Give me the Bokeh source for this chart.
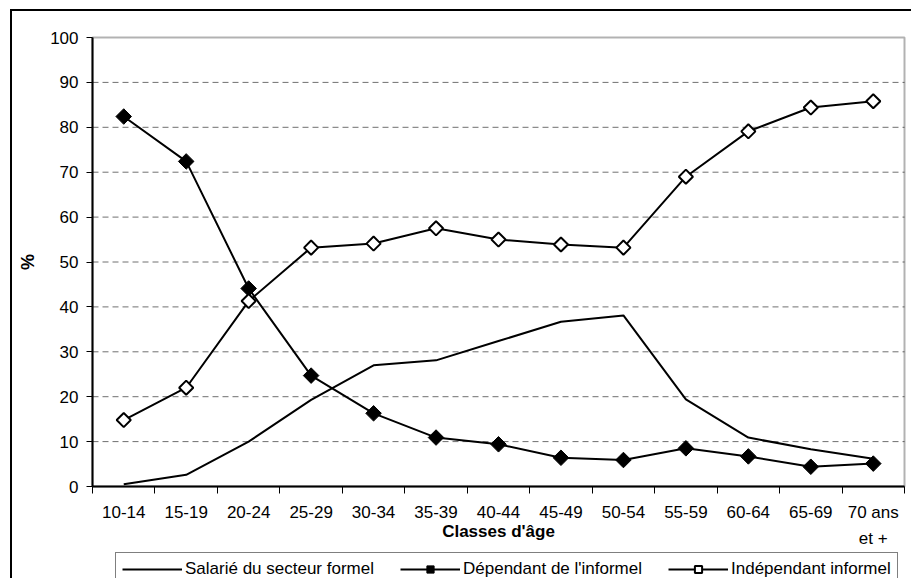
import math
from bokeh.plotting import figure
from bokeh.models import (FixedTicker, Legend, LegendItem, ColumnDataSource, Range1d,
                          Label, BoxAnnotation)
from bokeh.embed import file_html
from bokeh.resources import INLINE

categories = ["10-14", "15-19", "20-24", "25-29", "30-34", "35-39", "40-44",
              "45-49", "50-54", "55-59", "60-64", "65-69", "70 ans"]
last_category_line2 = "et +"
salarie = [0.5, 2.6, 10.0, 19.3, 27.0, 28.1, 32.4, 36.7, 38.1, 19.4, 10.9, 8.3, 6.2]
dependant = [82.4, 72.4, 44.1, 24.7, 16.3, 10.9, 9.4, 6.4, 5.9, 8.5, 6.7, 4.4, 5.1]
independant = [14.8, 22.0, 41.3, 53.2, 54.1, 57.5, 55.0, 53.9, 53.2, 69.0, 79.1, 84.4, 85.8]
series_names = ["Salarié du secteur formel", "Dépendant de l'informel", "Indépendant informel"]
y_ticks = [0, 10, 20, 30, 40, 50, 60, 70, 80, 90, 100]

FONT = "Liberation Sans"
FS = "17px"

# layout: the frame fills the whole canvas; the plot area sits inside it
W, H = 911, 578
AREA_L, AREA_R, AREA_T, AREA_B = 92, 904, 37, 486
n = len(categories)
ymax = y_ticks[-1]
ppx = (AREA_R - AREA_L) / n
ppy = (AREA_B - AREA_T) / ymax
x_range = Range1d(-AREA_L / ppx, n + (W - AREA_R) / ppx)
y_range = Range1d(-(H - AREA_B) / ppy, ymax + AREA_T / ppy)

xc = [i + 0.5 for i in range(n)]
src = ColumnDataSource(dict(x=xc, sal=salarie, dep=dependant, ind=independant))
grid_src = ColumnDataSource(dict(x0=[0] * (len(y_ticks) - 2), x1=[n] * (len(y_ticks) - 2),
                                 y=y_ticks[1:-1]))

p = figure(width=W, height=H, output_backend="svg", toolbar_location=None,
           x_range=x_range, y_range=y_range, min_border=0)
p.min_border_left = 0
p.min_border_right = 0
p.min_border_top = 0
p.min_border_bottom = 0
p.background_fill_color = None
p.border_fill_color = None
p.outline_line_color = None
p.styles = {
    "background": ("linear-gradient(#000,#000) 10px 9px / 2px 1200px no-repeat, "
                   "linear-gradient(#000,#000) 10px 9px / 1200px 2px no-repeat, #fff")
}
p.xgrid.visible = False
p.ygrid.visible = False

# x axis: at y=0, labels at category centres, ticks at the category boundaries
xa = p.xaxis[0]
xa.fixed_location = 0
xa.bounds = (0, n)
xa.ticker = FixedTicker(ticks=xc, minor_ticks=list(range(n + 1)))
xa.major_label_overrides = {x: c for x, c in zip(xc, categories)}
xa.major_tick_line_color = None
xa.major_tick_out = 7
xa.major_tick_in = 0
xa.minor_tick_out = 7
xa.minor_tick_in = 0
xa.minor_tick_line_color = "black"
xa.minor_tick_line_width = 1
xa.axis_line_color = "black"
xa.axis_line_width = 2
xa.major_label_standoff = 9
xa.major_label_text_font = FONT
xa.major_label_text_font_size = FS
xa.major_label_text_color = "black"
xa.axis_label = "Classes d'âge"
xa.axis_label_text_font = FONT
xa.axis_label_text_font_size = FS
xa.axis_label_text_font_style = "bold"
xa.axis_label_text_color = "black"
xa.axis_label_standoff = -3

# y axis: at x=0
ya = p.yaxis[0]
ya.fixed_location = 0
ya.bounds = (0, ymax)
ya.ticker = FixedTicker(ticks=y_ticks, minor_ticks=[])
ya.major_tick_out = 6
ya.major_tick_in = 0
ya.major_tick_line_color = "black"
ya.axis_line_color = "black"
ya.axis_line_width = 2
ya.major_label_standoff = 8
ya.major_label_text_font = FONT
ya.major_label_text_font_size = FS
ya.major_label_text_color = "black"
ya.axis_label = "%"
ya.axis_label_text_font = FONT
ya.axis_label_text_font_size = "18px"
ya.axis_label_text_font_style = "bold"
ya.axis_label_text_color = "black"
ya.axis_label_standoff = 9

# plot-area background and horizontal dashed grid
p.add_layout(BoxAnnotation(left=0, right=n, bottom=0, top=ymax, fill_color="white",
                           fill_alpha=1, line_color=None, level="underlay"))
p.segment("x0", "y", "x1", "y", source=grid_src, line_color="#707070",
          line_dash="6 4", line_width=1)

# series
l1 = p.line("x", "sal", source=src, line_color="black", line_width=2)
l2 = p.line("x", "dep", source=src, line_color="black", line_width=2)
m2 = p.scatter("x", "dep", source=src, marker="square", size=11, angle=math.pi / 4,
               fill_color="black", line_color="black", line_width=1)
l3 = p.line("x", "ind", source=src, line_color="black", line_width=2)
m3 = p.scatter("x", "ind", source=src, marker="square", size=10, angle=math.pi / 4,
               fill_color="white", line_color="black", line_width=2)

# plot-area border
p.add_layout(BoxAnnotation(left=0, right=n, bottom=0, top=ymax, fill_alpha=0,
                           line_color="black", line_width=2))

# second line of the last category label
p.add_layout(Label(x=xc[-1], y=0, y_offset=-52, text=last_category_line2,
                   text_font=FONT, text_font_size=FS, text_color="black",
                   text_align="center", text_baseline="middle"))

legend = Legend(items=[LegendItem(label=series_names[0], renderers=[l1]),
                       LegendItem(label=series_names[1], renderers=[l2, m2]),
                       LegendItem(label=series_names[2], renderers=[l3, m3])],
                orientation="horizontal", location=(115, -8),
                label_text_font=FONT, label_text_font_size=FS, label_text_color="black",
                glyph_width=60, glyph_height=18, label_standoff=3, spacing=26,
                padding=6, margin=0, border_line_color="black", border_line_width=1,
                background_fill_color="white", background_fill_alpha=1)
p.add_layout(legend)

open("out.html", "w").write(file_html(p, INLINE))
